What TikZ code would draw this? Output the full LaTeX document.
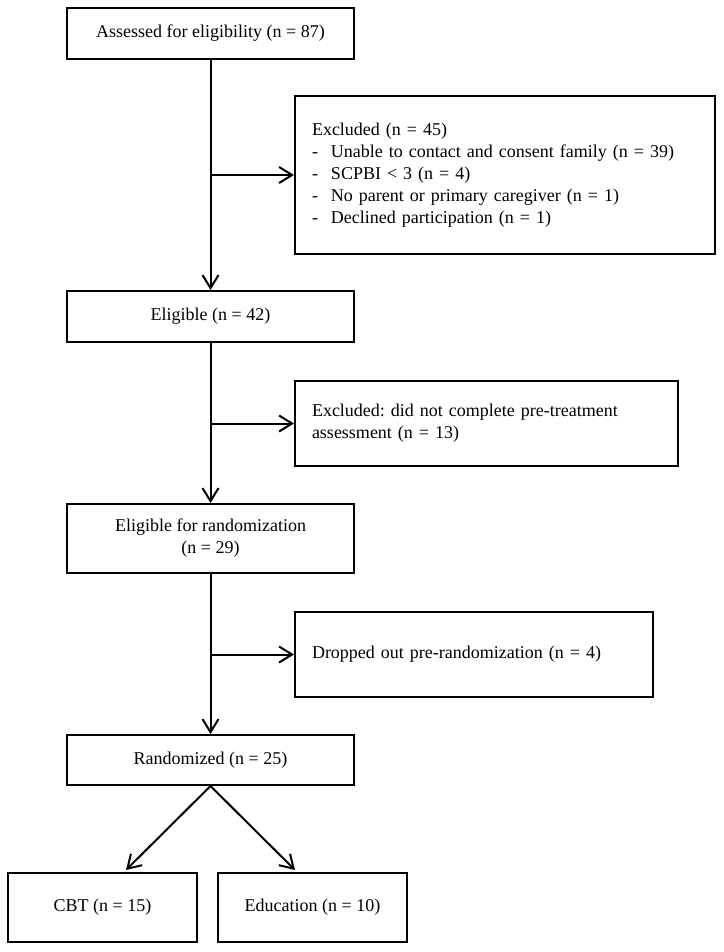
\documentclass[tikz,border=0pt]{standalone}
\usepackage{fontspec}
\setmainfont{Liberation Serif}
\usetikzlibrary{arrows.meta}
\begin{document}
\frenchspacing
\begin{tikzpicture}[x=1pt,y=-1pt,
  box/.style={draw, line width=2pt, inner sep=0pt, font=\fontsize{18}{22}\selectfont, align=center},
  sidebox/.style={box, align=left, inner xsep=17pt},
  arr/.style={line width=2pt, -{Straight Barb[length=13pt,width=16pt,line width=2pt]}}]
\useasboundingbox (0,0) rectangle (723,952);
\newcommand{\dashitem}{\makebox[19pt][l]{-}}
\node[box, minimum width=287pt, minimum height=51pt] (a) at (210.5,33.5) {Assessed for eligibility (n = 87)};
\node[sidebox, text width=386pt, minimum height=158pt] (ex1) at (505,175) {Excluded (n = 45)\\
\dashitem Unable to contact and consent family (n = 39)\\
\dashitem SCPBI {\char`\<} 3 (n = 4)\\
\dashitem No parent or primary caregiver (n = 1)\\
\dashitem Declined participation (n = 1)};
\node[box, minimum width=287pt, minimum height=51pt] (b) at (210.5,316.5) {Eligible (n = 42)};
\node[sidebox, text width=349pt, minimum height=85pt] (ex2) at (486.5,423.5) {Excluded: did not complete pre-treatment\\assessment (n = 13)};
\node[box, minimum width=287pt, minimum height=69pt] (c) at (210.5,538.5) {Eligible for randomization\\(n = 29)};
\node[sidebox, text width=324pt, minimum height=85pt] (ex3) at (474,654.5) {Dropped out pre-randomization (n = 4)};
\node[box, minimum width=287pt, minimum height=50pt] (d) at (210.5,760) {Randomized (n = 25)};
\node[box, minimum width=189pt, minimum height=69pt] (e) at (102.5,907.5) {CBT (n = 15)};
\node[box, minimum width=189pt, minimum height=69pt] (f) at (312.5,907.5) {Education (n = 10)};
\draw[arr] (a.south) -- (b.north);
\draw[arr] (a.south |- ex1.west) -- (ex1.west);
\draw[arr] (b.south) -- (c.north);
\draw[arr] (b.south |- ex2.west) -- (ex2.west);
\draw[arr] (c.south) -- (d.north);
\draw[arr] (c.south |- ex3.west) -- (ex3.west);
\draw[arr] (d.south) -- ([xshift=23.5pt,yshift=2pt]e.north);
\draw[arr] (d.south) -- ([xshift=-17.5pt,yshift=2pt]f.north);
\end{tikzpicture}
\end{document}
